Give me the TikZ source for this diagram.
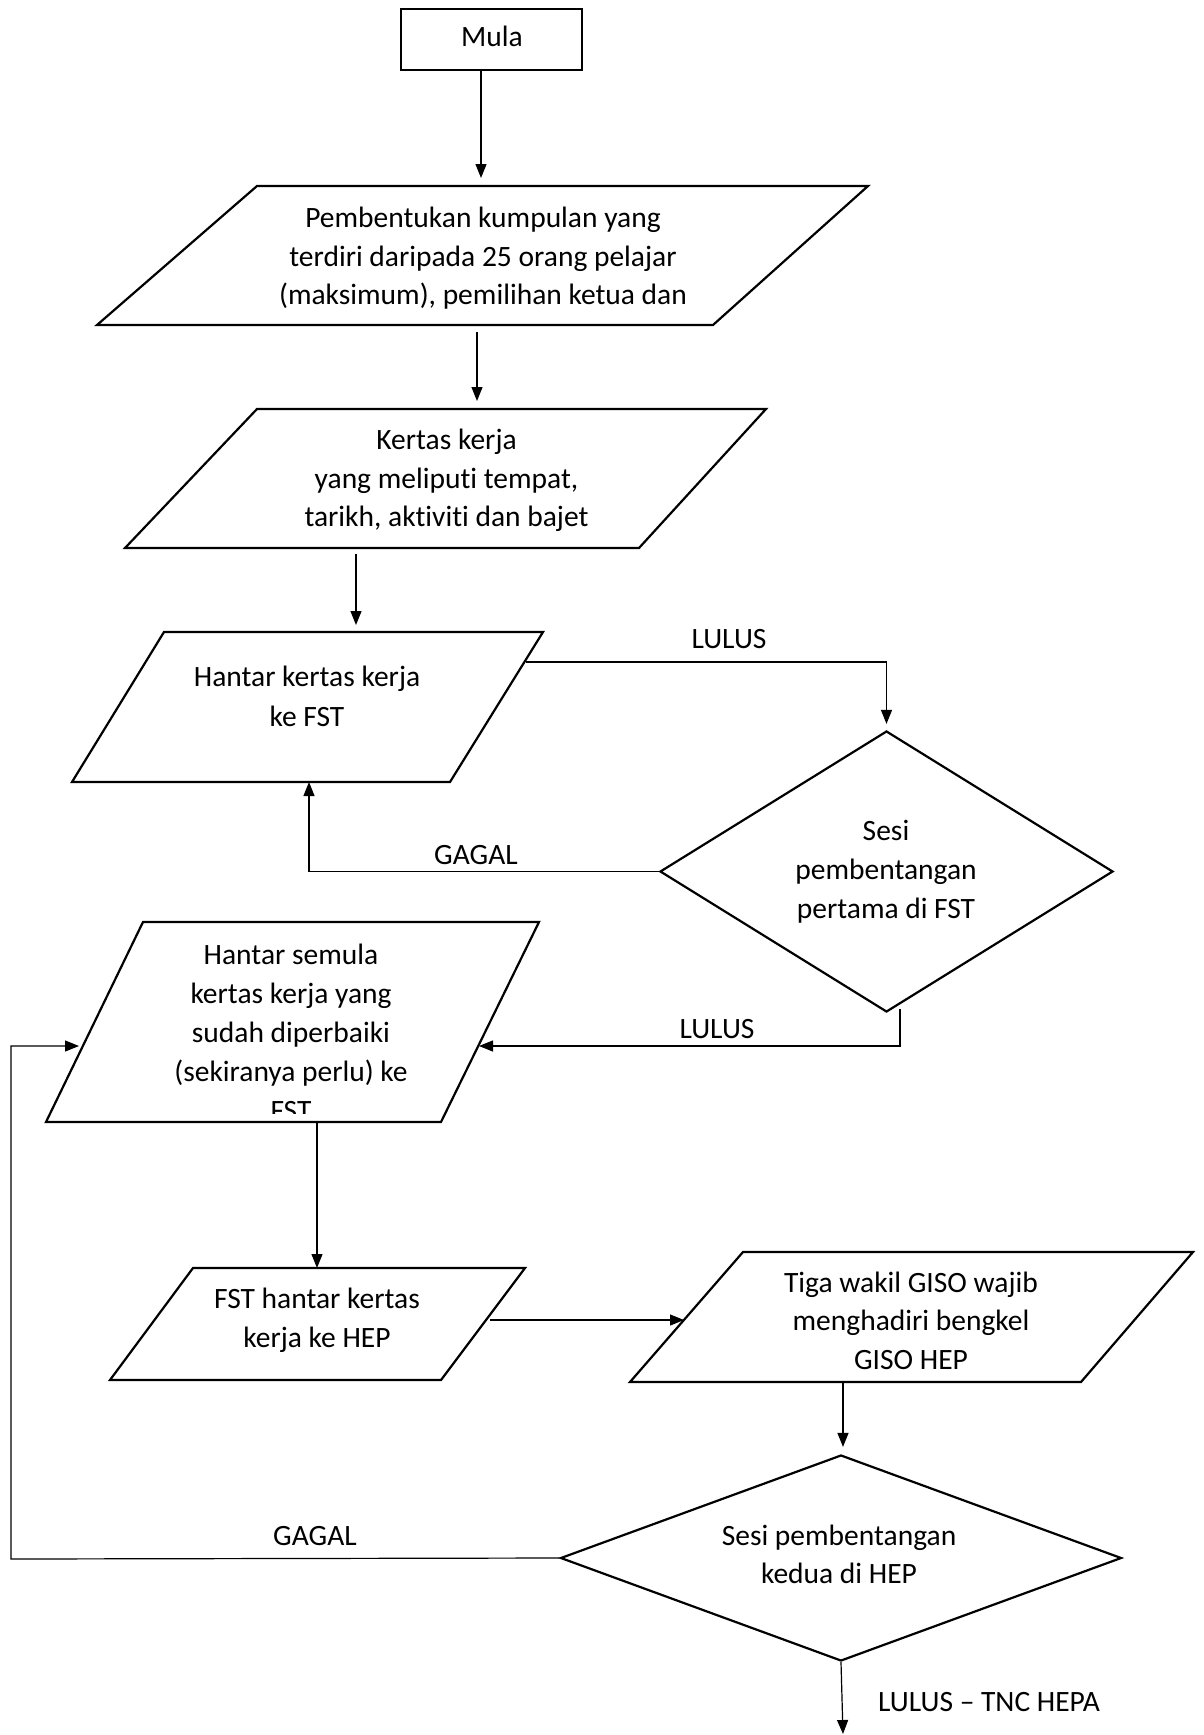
\documentclass[tikz,border=0pt]{standalone}
\usepackage{fontspec}
\setmainfont{Carlito}[Ligatures=NoCommon]
\usetikzlibrary{arrows.meta,shapes.geometric}
\begin{document}
\begin{tikzpicture}[x=1pt,y=-1pt,
  shapeline/.style={draw,line width=2.2pt,line join=miter},
  conn/.style={draw,line width=1.2pt,-{Triangle[length=14pt,width=11pt]}},
  txt/.style={anchor=base,inner sep=0pt,font=\fontsize{29.5}{38.6}\selectfont},
  dia/.style={draw,shape=diamond,line width=2.2pt,inner sep=0pt}]
\useasboundingbox[fill=white] (0,0) rectangle (1203,1735);

% Start box
\node[draw,line width=2.2pt,minimum width=181pt,minimum height=61pt,inner sep=0pt] (mula) at (491.5,39.5) {};
\node[txt] (mulat) at (492,46) {Mula};

% Parallelogram 1
\coordinate (p1tl) at (257,186); \coordinate (p1tr) at (868,186);
\coordinate (p1br) at (713,325); \coordinate (p1bl) at (97,325);
\draw[shapeline] (p1tl) -- (p1tr) -- (p1br) -- (p1bl) -- cycle;
\node[txt] (p1a) at (483,227) {Pembentukan kumpulan yang};
\node[txt] (p1b) at (483,266) {terdiri daripada 25 orang pelajar};
\node[txt] (p1c) at (483,304) {(maksimum), pemilihan ketua dan};

% Parallelogram 2
\coordinate (p2tl) at (257,409); \coordinate (p2tr) at (766,409);
\coordinate (p2br) at (639,548); \coordinate (p2bl) at (125,548);
\draw[shapeline] (p2tl) -- (p2tr) -- (p2br) -- (p2bl) -- cycle;
\node[txt] (p2a) at (446.5,449) {Kertas kerja};
\node[txt] (p2b) at (446.5,488) {yang meliputi tempat,};
\node[txt] (p2c) at (446.5,526) {tarikh, aktiviti dan bajet};

% Parallelogram 3
\coordinate (p3tl) at (164,632); \coordinate (p3tr) at (543,632);
\coordinate (p3br) at (450,782); \coordinate (p3bl) at (72,782);
\draw[shapeline] (p3tl) -- (p3tr) -- (p3br) -- (p3bl) -- cycle;
\node[txt] (p3a) at (307,686) {Hantar kertas kerja};
\node[txt] (p3b) at (307,726) {ke FST};

% Diamond 1
\node[dia,minimum width=453pt,minimum height=281pt] (d1) at (886.5,871.5) {};
\node[txt] (d1a) at (886,840) {Sesi};
\node[txt] (d1b) at (886,879) {pembentangan};
\node[txt] (d1c) at (886,918) {pertama di FST};

% Parallelogram 4
\coordinate (p4tl) at (143,922); \coordinate (p4tr) at (539,922);
\coordinate (p4br) at (441,1122); \coordinate (p4bl) at (46,1122);
\draw[shapeline] (p4tl) -- (p4tr) -- (p4br) -- (p4bl) -- cycle;
\node[txt] (p4a) at (291,964) {Hantar semula};
\node[txt] (p4b) at (291,1003) {kertas kerja yang};
\node[txt] (p4c) at (291,1042) {sudah diperbaiki};
\node[txt] (p4d) at (291,1081) {(sekiranya perlu) ke};
\begin{scope}
\clip (0,1090) rectangle (1203,1113);
\node[txt] (p4e) at (291,1120) {FST};
\end{scope}

% Parallelogram 5
\coordinate (p5tl) at (193,1268); \coordinate (p5tr) at (525,1268);
\coordinate (p5br) at (441,1380); \coordinate (p5bl) at (110,1380);
\draw[shapeline] (p5tl) -- (p5tr) -- (p5br) -- (p5bl) -- cycle;
\node[txt] (p5a) at (317,1308) {FST hantar kertas};
\node[txt] (p5b) at (317,1347) {kerja ke HEP};

% Parallelogram 6
\coordinate (p6tl) at (743,1252); \coordinate (p6tr) at (1193,1252);
\coordinate (p6br) at (1081,1382); \coordinate (p6bl) at (630,1382);
\draw[shapeline] (p6tl) -- (p6tr) -- (p6br) -- (p6bl) -- cycle;
\node[txt] (p6a) at (911,1292) {Tiga wakil GISO wajib};
\node[txt] (p6b) at (911,1330) {menghadiri bengkel};
\node[txt] (p6c) at (911,1369) {GISO HEP};

% Diamond 2
\node[dia,minimum width=561pt,minimum height=206pt] (d2) at (841,1558) {};
\node[txt] (d2a) at (839,1545) {Sesi pembentangan};
\node[txt] (d2b) at (839,1583) {kedua di HEP};

% Connector points
\coordinate (a1e) at (481,186);
\coordinate (a2s) at (477,325); \coordinate (a2e) at (477,409);
\coordinate (a3s) at (356,548); \coordinate (a3e) at (356,632);
\coordinate (p3r) at (526,662);
\coordinate (p3bot) at (309,782);
\coordinate (l2s) at (900,1009);
\coordinate (p4r) at (479,1046);
\coordinate (p4l) at (83,1046);
\coordinate (lc) at (11,1559);
\coordinate (a4s) at (317,1122); \coordinate (a4e) at (317,1268);
\coordinate (p5r) at (486,1320); \coordinate (p6l) at (684,1320);
\coordinate (a6s) at (843,1382);
\coordinate (fin) at (843,1734);

% Connectors
\draw[conn,shorten >=8pt] (mula.south -| a1e) -- (a1e);
\draw[conn,shorten <=7pt,shorten >=8pt] (a2s) -- (a2e);
\draw[conn,shorten <=6pt,shorten >=7pt] (a3s) -- (a3e);
\draw[conn,shorten >=6pt] (p3r) -| (d1.north);
\draw[conn] (d1.west) -| (p3bot);
\draw[conn] (l2s) |- (p4r);
\draw[conn,shorten >=4pt] (d2.west) -- (lc) |- (p4l);
\draw[conn] (a4s) -- (a4e);
\draw[conn,shorten <=4pt] (p5r) -- (p6l);
\draw[conn,shorten >=7pt] (a6s) -- (a6s |- d2.north);
\draw[conn] (d2.south) -- (fin);

% Labels
\node[txt] (lulus1) at (729,648) {LULUS};
\node[txt] (gagal1) at (476,864) {GAGAL};
\node[txt] (lulus2) at (717,1038) {LULUS};
\node[txt] (gagal2) at (315,1545) {GAGAL};
\node[txt] (lulus3) at (989,1711) {LULUS – TNC HEPA};
\end{tikzpicture}
\end{document}
